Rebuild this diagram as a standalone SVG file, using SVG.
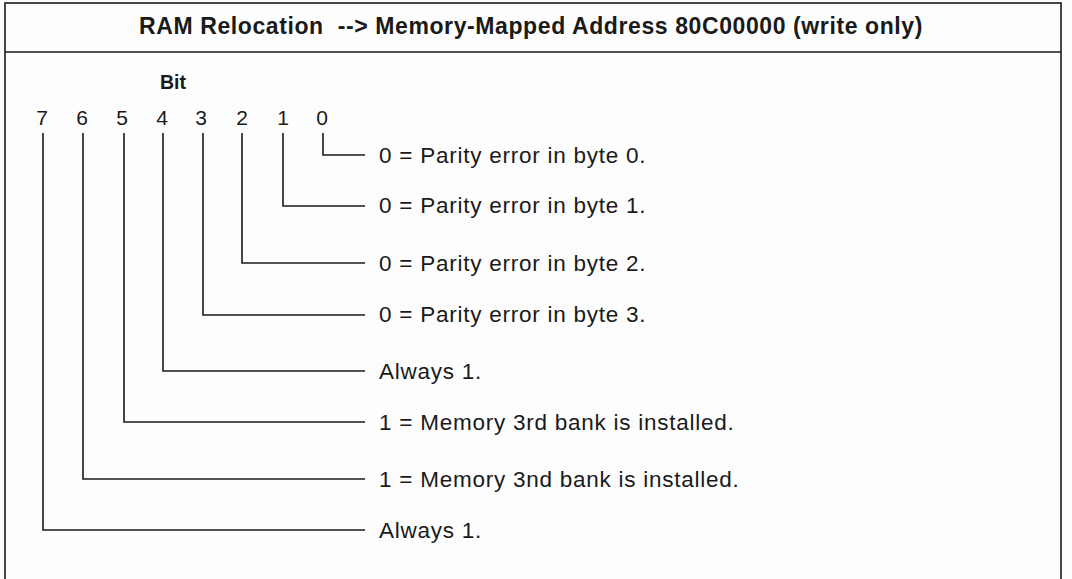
<svg xmlns="http://www.w3.org/2000/svg" width="1072" height="579" viewBox="0 0 1072 579">
<style>
.t{font-family:"Liberation Sans",Arial,sans-serif;fill:#1a1a1a}
.b{font-weight:bold}
.n{font-size:21px;text-anchor:middle}
.l{font-size:22.5px;letter-spacing:0.75px}
.c{fill:none;stroke:#1a1a1a;stroke-width:1.6}
</style>
<rect x="0" y="0" width="1072" height="579" fill="#fdfdfd"/>
<g id="frame">
<rect x="5" y="3" width="1056" height="590" fill="none" stroke="#1a1a1a" stroke-width="1.6"/>
<line x1="5" y1="52" x2="1061" y2="52" stroke="#1a1a1a" stroke-width="1.6"/>
<text class="t b" x="531" y="34" font-size="23" letter-spacing="0.6" text-anchor="middle">RAM Relocation &#160;--&gt; Memory-Mapped Address 80C00000 (write only)</text>
<text class="t b" x="173" y="89" font-size="19.5" text-anchor="middle">Bit</text>
</g>
<g id="bits">
<text class="t n" x="42" y="125">7</text>
<text class="t n" x="82" y="125">6</text>
<text class="t n" x="122" y="125">5</text>
<text class="t n" x="162" y="125">4</text>
<text class="t n" x="201" y="125">3</text>
<text class="t n" x="242" y="125">2</text>
<text class="t n" x="283" y="125">1</text>
<text class="t n" x="322" y="125">0</text>
</g>
<g id="connectors">
<path class="c" d="M323 133V155H365"/>
<path class="c" d="M283 133V206H365"/>
<path class="c" d="M242 133V263H365"/>
<path class="c" d="M203 133V315H365"/>
<path class="c" d="M163 133V371H365"/>
<path class="c" d="M124 133V422H365"/>
<path class="c" d="M83 133V479H365"/>
<path class="c" d="M43 133V530H365"/>
</g>
<g id="labels">
<text class="t l" x="379" y="163">0 = Parity error in byte 0.</text>
<text class="t l" x="379" y="213">0 = Parity error in byte 1.</text>
<text class="t l" x="379" y="271">0 = Parity error in byte 2.</text>
<text class="t l" x="379" y="322">0 = Parity error in byte 3.</text>
<text class="t l" x="379" y="379">Always 1.</text>
<text class="t l" x="379" y="430">1 = Memory 3rd bank is installed.</text>
<text class="t l" x="379" y="487">1 = Memory 3nd bank is installed.</text>
<text class="t l" x="379" y="538">Always 1.</text>
</g>
</svg>
